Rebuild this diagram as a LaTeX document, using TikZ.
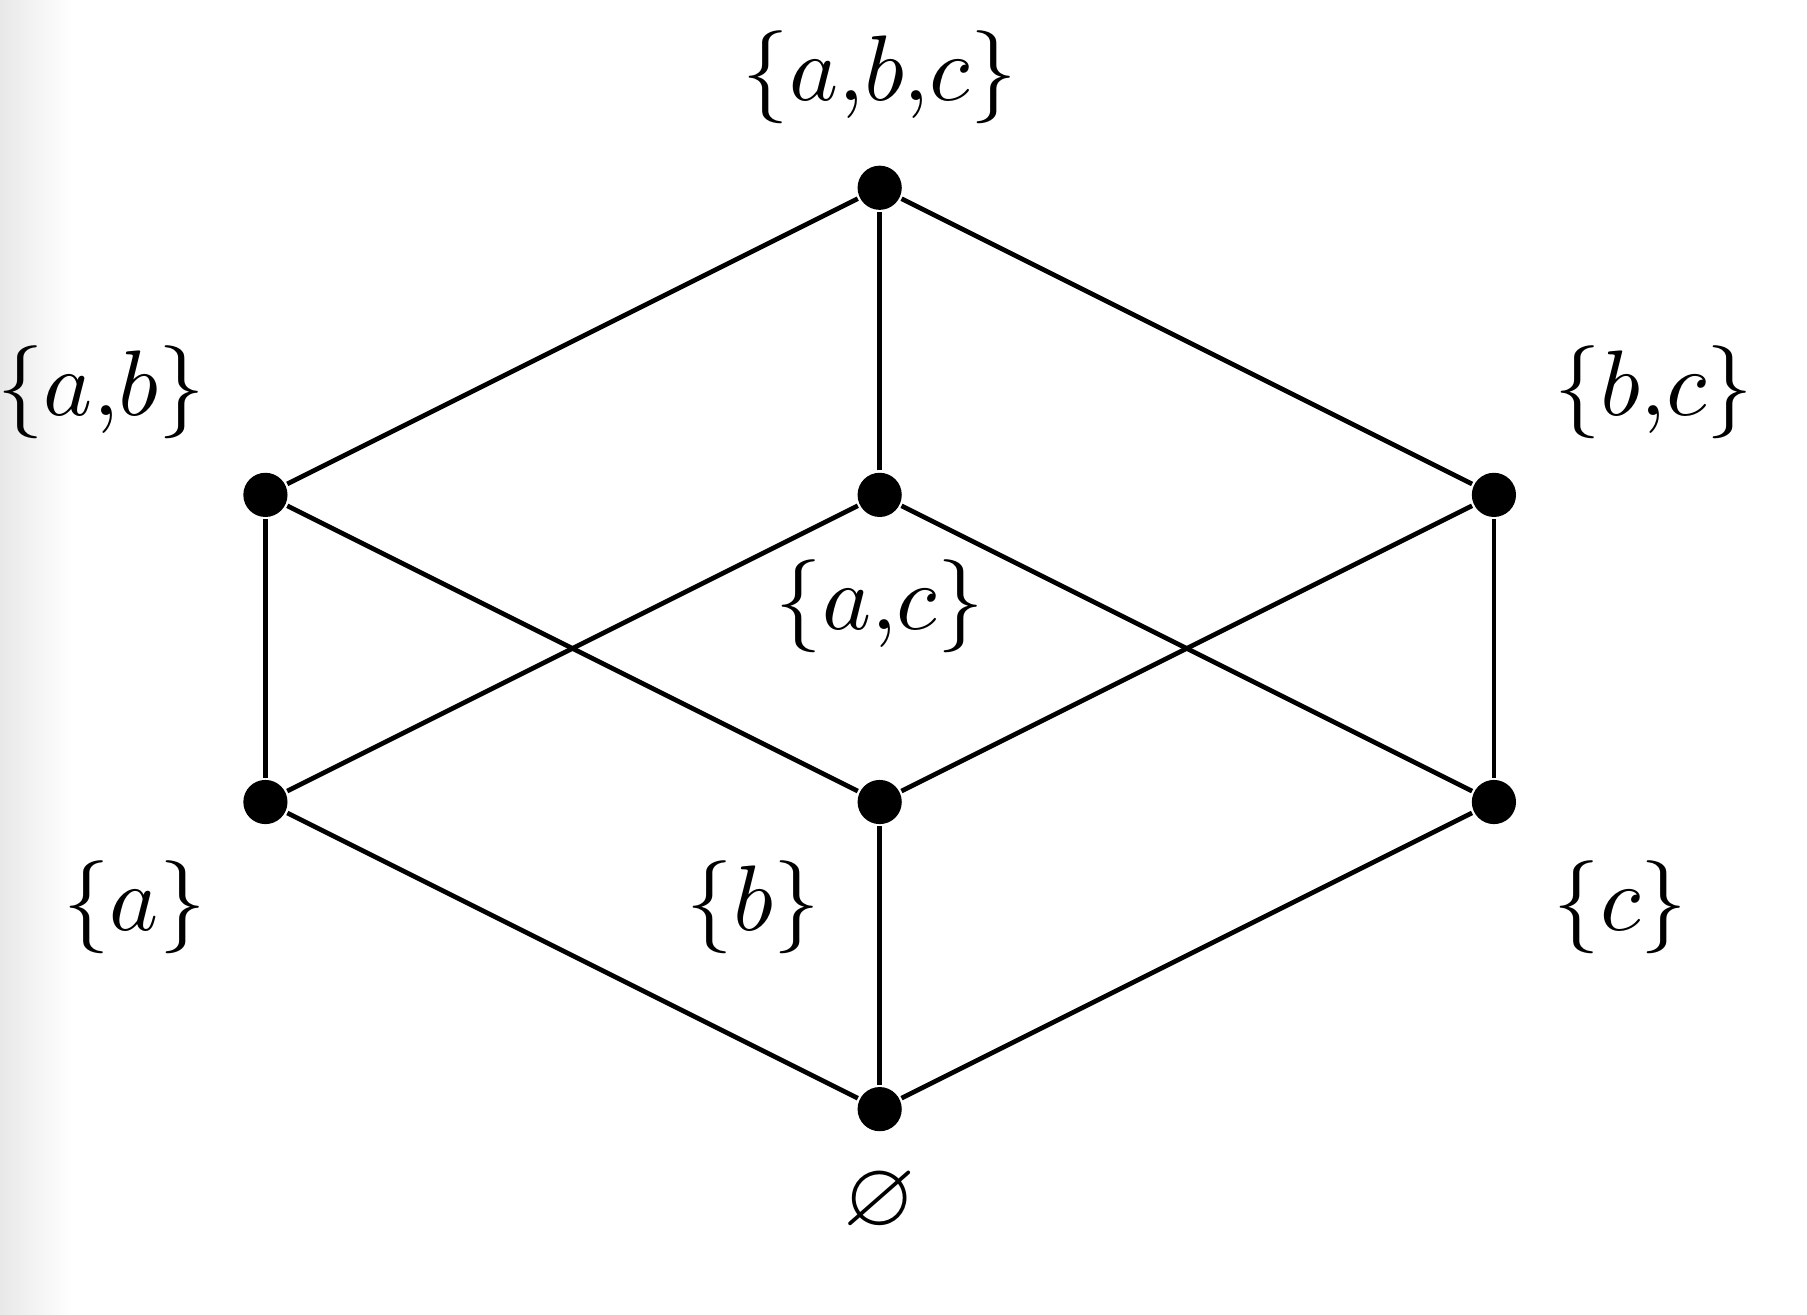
\documentclass[tikz,border=0pt,11pt]{standalone}
\usepackage{amsmath, amssymb}
\usetikzlibrary{positioning}

\begin{document}
\begin{tikzpicture}[
        x=1in, y=0.5in,
        on grid,
        dot/.style = {
            circle,
            fill=black,
            inner sep=0pt,
            minimum size=5.2pt
        },
        setlabel/.style = {
            inner sep=0pt
        },
        line width=0.55pt]
        \useasboundingbox (-103.5pt,-24.2pt) rectangle (109.1pt,130.5pt);
        \shade[left color=black!9, right color=white] (-103.5pt,-24.2pt) rectangle (-95pt,130.5pt);

        % elements of the lattice
        \node[dot] (empty) at (0,0) {};
        \node[dot] (a) at (-1,1) {};
        \node[dot] (b) at (0,1) {};
        \node[dot] (c) at (1,1) {};
        \node[dot] (ab) at (-1,2) {};
        \node[dot] (ac) at (0,2) {};
        \node[dot] (bc) at (1,2) {};
        \node[dot] (abc) at (0,3) {};

        % names of the sets
        \node[setlabel, below=10.9pt of empty] (lempty) {$\varnothing$};
        \node[setlabel, below left=12.35pt and 15.4pt of a] (la) {$\{a\}$};
        \node[setlabel, below left=12.35pt and 14.9pt of b] (lb) {$\{b\}$};
        \node[setlabel, below right=12.35pt and 14.9pt of c] (lc) {$\{c\}$};
        \node[setlabel, above left=12.1pt and 19.3pt of ab] (lab) {$\{a{,}b\}$};
        \node[setlabel, below=13.06pt of ac] (lac) {$\{a{,}c\}$};
        \node[setlabel, above right=12.1pt and 18.8pt of bc] (lbc) {$\{b{,}c\}$};
        \node[setlabel, above=13.06pt of abc] (labc) {$\{a{,}b{,}c\}$};

        % covering relations
        \draw (empty) -- (a);
        \draw (empty) -- (b);
        \draw (empty) -- (c);
        \draw (a) -- (ab);
        \draw (a) -- (ac);
        \draw (b) -- (ab);
        \draw (b) -- (bc);
        \draw (c) -- (ac);
        \draw (c) -- (bc);
        \draw (ab) -- (abc);
        \draw (ac) -- (abc);
        \draw (bc) -- (abc);
\end{tikzpicture}
\end{document}
